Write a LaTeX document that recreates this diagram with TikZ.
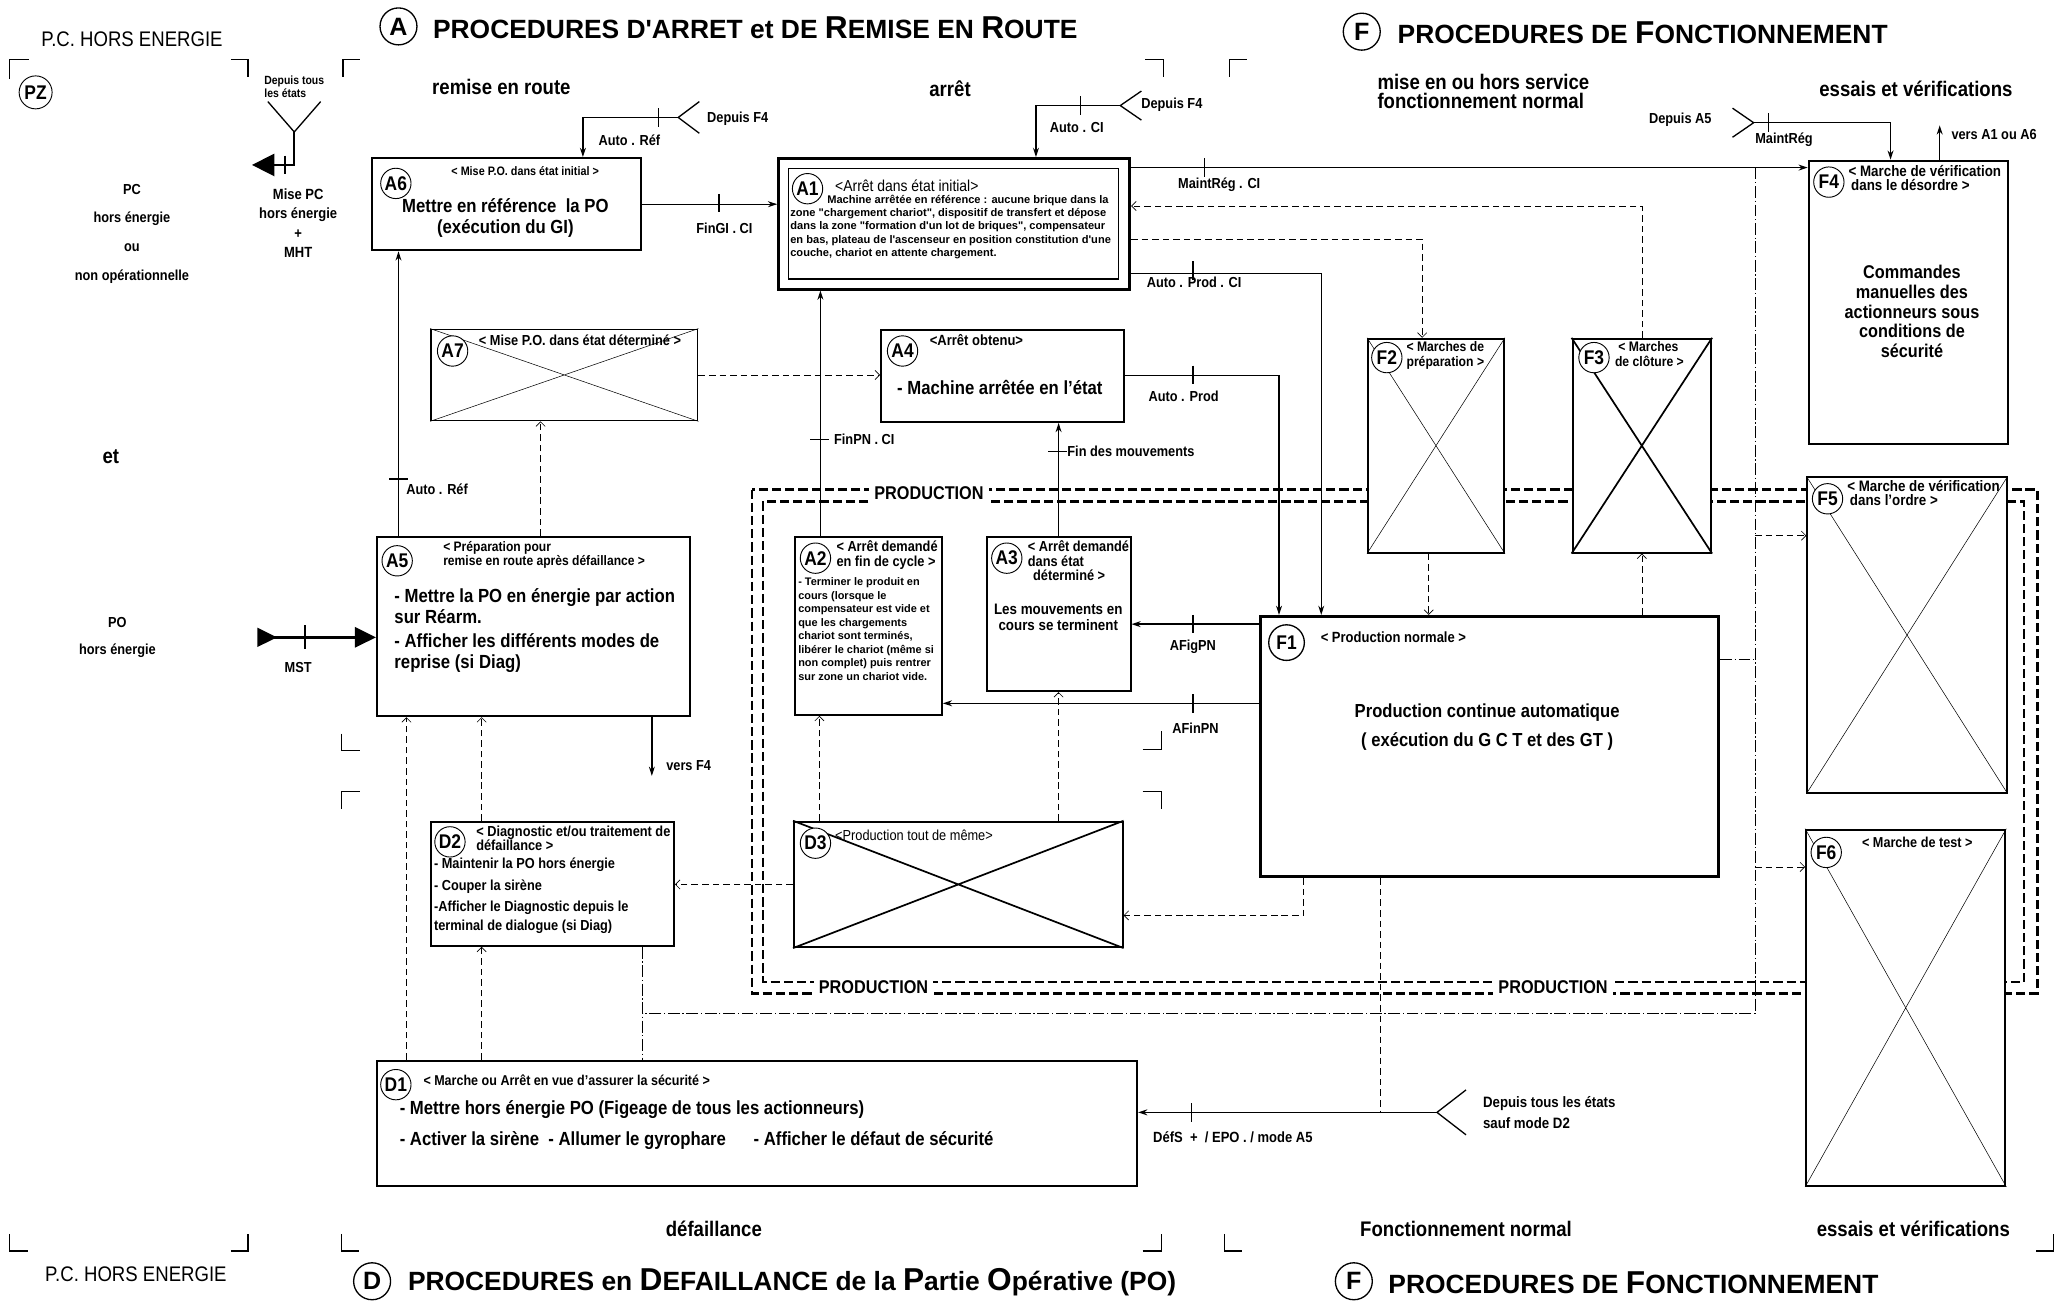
\documentclass[tikz,border=0pt]{standalone}
\usepackage{fontspec}
\setmainfont{Liberation Sans}[FakeStretch=0.88]
\newfontfamily\pleinefont{Liberation Sans}
\usetikzlibrary{arrows.meta,positioning}

\tikzset{
  etat/.style={draw, line width=1.5pt, fill=white, inner sep=0pt, anchor=north west},
  num/.style={circle, draw, line width=0.7pt, fill=white, inner sep=0pt, minimum size=23pt, font=\bfseries\fontsize{15}{15}\selectfont},
  grandnum/.style={circle, draw, line width=1pt, fill=white, inner sep=0pt, minimum size=28pt, font=\pleinefont\bfseries\fontsize{19}{19}\selectfont},
  titre/.style={anchor=west, inner sep=0pt, font=\pleinefont\bfseries\fontsize{20}{21}\selectfont},
  croix/.style={line width=0.4pt},
  croixforte/.style={line width=1.3pt},
  lien/.style={line width=1pt, -{Stealth[length=7pt,width=4.5pt]}},
  pointille/.style={line width=0.5pt, dash pattern=on 5pt off 3pt, -{Straight Barb[length=3.5pt,width=7pt]}},
  mixte/.style={line width=0.5pt, dash pattern=on 9pt off 2pt on 1pt off 2pt},
  prod/.style={line width=1.8pt, dash pattern=on 7pt off 3pt},
  prodlab/.style={fill=white, inner sep=4pt, minimum height=24pt, font=\bfseries\fontsize{14}{14}\selectfont},
  coin/.style={line width=1pt},
  tick/.style={line width=1pt},
  soustitre/.style={inner sep=0.75pt, font=\bfseries\fontsize{9.3}{11}\selectfont},
  moyen/.style={inner sep=0.75pt, font=\bfseries\fontsize{11.2}{11.5}\selectfont},
  corps/.style={inner sep=0.75pt, font=\bfseries\fontsize{14.4}{16}\selectfont},
  petit/.style={inner sep=0.75pt, font=\pleinefont\bfseries\fontsize{8.4}{10}\selectfont},
  rubrique/.style={inner sep=0.75pt, font=\bfseries\fontsize{16}{15}\selectfont},
  etiq/.style={inner sep=0.75pt, font=\bfseries\fontsize{11}{12}\selectfont},
}
\newcommand{\grande}[1]{{\fontsize{24}{24}\selectfont #1}}

\begin{document}
\begin{tikzpicture}[x=1pt,y=1pt,yscale=-1]
\useasboundingbox (0,0) rectangle (1568,986);

%Production loop (double dashed)
\draw[prod] (570,371) rectangle (1544,753);
\draw[prod] (578,380) rectangle (1534,744);
\node[prodlab] (prodA) at (704,374) {PRODUCTION};
\node[prodlab] (prodD) at (662,748) {PRODUCTION};
\node[prodlab] (prodF) at (1177,748) {PRODUCTION};

%Corner marks
\draw[coin] (7,60) -- (7,45) -- (22,45);
\draw[coin] (175,45) -- (188,45) -- (188,58);
\draw[coin] (260,58) -- (260,45) -- (273,45);
\draw[coin] (868,45) -- (882,45) -- (882,58);
\draw[coin] (932,58) -- (932,45) -- (945,45);
\draw[coin] (259,556) -- (259,569) -- (273,569);
\draw[coin] (866,568) -- (880,568) -- (880,554);
\draw[coin] (259,613) -- (259,600) -- (273,600);
\draw[coin] (866,600) -- (880,600) -- (880,613);
\draw[coin] (7,935) -- (7,948) -- (21,948);
\draw[coin] (175,948) -- (188,948) -- (188,935);
\draw[coin] (259,935) -- (259,948) -- (272,948);
\draw[coin] (866,948) -- (880,948) -- (880,935);
\draw[coin] (928,935) -- (928,948) -- (941,948);
\draw[coin] (1543,948) -- (1556,948) -- (1556,935);

%Titles
\node[grandnum] (cA) at (302,20) {A};
\node[titre] (tA) at (328,21) {PROCEDURES D'ARRET et DE \grande{R}EMISE EN \grande{R}OUTE};
\node[grandnum] (cF) at (1032,24) {F};
\node[titre] (tF) at (1059,25) {PROCEDURES DE \grande{F}ONCTIONNEMENT};
\node[grandnum] (cD) at (282,971) {D};
\node[titre] (tD) at (309,972) {PROCEDURES en \grande{D}EFAILLANCE de la \grande{P}artie \grande{O}pérative (PO)};
\node[grandnum] (cF2) at (1026,971) {F};
\node[titre] (tF2) at (1052,972) {PROCEDURES DE \grande{F}ONCTIONNEMENT};

%Zone headings
\node[inner sep=0pt, font=\fontsize{16}{16}\selectfont] (pcT) at (100,30) {P.C. HORS ENERGIE};
\node[inner sep=0pt, font=\fontsize{16}{16}\selectfont] (pcB) at (103,966) {P.C. HORS ENERGIE};
\node[rubrique] (hRemise) at (380,66) {remise en route};
\node[rubrique] (hArret) at (720,67) {arrêt};
\node[rubrique, anchor=west, align=left, font=\bfseries\fontsize{16}{14.5}\selectfont] (hMise) at (1043,69) {mise en ou hors service\\fonctionnement normal};
\node[rubrique] (hEssais) at (1452,67) {essais et vérifications};
\node[rubrique] (hDef) at (541,931) {défaillance};
\node[rubrique] (hFonct) at (1111,931) {Fonctionnement normal};
\node[rubrique] (hEssaisB) at (1450,931) {essais et vérifications};

%Zone PZ
\node[num, minimum size=25pt] (nPZ) at (27,70) {PZ};
\node[align=center, inner sep=0pt, font=\bfseries\fontsize{11}{21.7}\selectfont] (pzTxt) at (100,177) {PC\\hors énergie\\ou\\non opérationnelle};
\node[rubrique] (et) at (84,346) {et};
\node[align=center, inner sep=0pt, font=\bfseries\fontsize{11}{21}\selectfont] (poTxt) at (89,483) {PO\\hors énergie};
\node[align=left, inner sep=0pt, font=\bfseries\fontsize{9}{10}\selectfont] (depTous) at (223,66) {Depuis tous\\les états};
\node[align=center, inner sep=0pt, font=\bfseries\fontsize{11.2}{14.7}\selectfont] (misePC) at (226,169) {Mise PC\\hors énergie\\+\\MHT};
\node[etiq] (mstLab) at (226,506) {MST};

%States A
\node[etat, minimum width=204pt, minimum height=70pt] (A6) at (281,119) {};
\node[etat, line width=2.2pt, minimum width=266pt, minimum height=99pt] (A1) at (589,119) {};
\node[etat, line width=0.9pt, minimum width=250pt, minimum height=84pt] (A1i) at (597,127) {};
\node[etat, line width=1.3pt, minimum width=202pt, minimum height=69pt] (A7) at (326,249) {};
\node[etat, minimum width=184pt, minimum height=70pt] (A4) at (667,249) {};
\node[etat, minimum width=237pt, minimum height=136pt] (A5) at (285,406) {};
\node[etat, minimum width=111pt, minimum height=135pt] (A2) at (602,406) {};
\node[etat, minimum width=109pt, minimum height=117pt] (A3) at (747,406) {};

%States F
\node[etat, line width=2.6pt, minimum width=347pt, minimum height=197pt] (F1) at (954,466) {};
\node[etat, minimum width=103pt, minimum height=162pt] (F2) at (1036,256) {};
\node[etat, minimum width=105pt, minimum height=162pt] (F3) at (1191,256) {};
\node[etat, minimum width=151pt, minimum height=215pt] (F4) at (1370,121) {};
\node[etat, minimum width=151pt, minimum height=239pt] (F5) at (1369,361) {};
\node[etat, minimum width=151pt, minimum height=270pt] (F6) at (1368,628) {};

%States D
\node[etat, minimum width=576pt, minimum height=95pt] (D1) at (285,803) {};
\node[etat, minimum width=184pt, minimum height=94pt] (D2) at (326,622) {};
\node[etat, minimum width=249pt, minimum height=95pt] (D3) at (601,622) {};

%Crossed states
\draw[croix] (A7.north west) -- (A7.south east) (A7.north east) -- (A7.south west);
\draw[croix] (F2.north west) -- (F2.south east) (F2.north east) -- (F2.south west);
\draw[croixforte] (F3.north west) -- (F3.south east) (F3.north east) -- (F3.south west);
\draw[croix] (F5.north west) -- (F5.south east) (F5.north east) -- (F5.south west);
\draw[croix] (F6.north west) -- (F6.south east) (F6.north east) -- (F6.south west);
\draw[croixforte] (D3.north west) -- (D3.south east) (D3.north east) -- (D3.south west);

%State numbers
\node[num] (nA6) at (300,139) {A6};
\node[num] (nA1) at (612,143) {A1};
\node[num] (nA7) at (343,266) {A7};
\node[num] (nA4) at (684,266) {A4};
\node[num] (nA5) at (301,425) {A5};
\node[num] (nA2) at (618,423) {A2};
\node[num] (nA3) at (763,423) {A3};
\node[num, minimum size=27pt, line width=1pt] (nF1) at (975,487) {F1};
\node[num] (nF2) at (1051,271) {F2};
\node[num] (nF3) at (1208,271) {F3};
\node[num] (nF4) at (1386,138) {F4};
\node[num] (nF5) at (1385,378) {F5};
\node[num] (nF6) at (1384,646) {F6};
\node[num] (nD1) at (300,822) {D1};
\node[num] (nD2) at (341,638) {D2};
\node[num] (nD3) at (618,639) {D3};

% Text Node A6
\node[soustitre] (tA6a) at (398,130) {< Mise P.O. dans état initial >};
\node[corps, align=center] (tA6b) at (383,165) {Mettre en référence~ la PO\\(exécution du GI)};
% Text Node A1
\node[inner sep=0.75pt, anchor=west, font=\fontsize{12}{12}\selectfont] (tA1a) at (632,141) {<Arrêt dans état initial>};
\node[petit, anchor=north west, align=left] (tA1b) at (598,147) {\hspace*{28pt}Machine arrêtée en référence : aucune brique dans la\\zone "chargement chariot", dispositif de transfert et dépose\\dans la zone "formation d'un lot de briques", compensateur\\en bas, plateau de l'ascenseur en position constitution d'une\\couche, chariot en attente chargement.};
% Text Node A7
\node[moyen, anchor=west, font=\bfseries\fontsize{11}{11}\selectfont] (tA7) at (362,258) {< Mise P.O. dans état déterminé >};
% Text Node A4
\node[moyen] (tA4a) at (740,258) {<Arrêt obtenu>};
\node[corps, anchor=west] (tA4b) at (679,294) {- Machine arrêtée en l'état};
% Text Node A5
\node[moyen, anchor=north west, align=left, font=\bfseries\fontsize{10.4}{11}\selectfont] (tA5a) at (335,409) {< Préparation pour\\remise en route après défaillance >};
\node[corps, anchor=north west, align=left] (tA5b) at (298,445) {- Mettre la PO en énergie par action\\sur Réarm.};
\node[corps, anchor=north west, align=left] (tA5c) at (298,479) {- Afficher les différents modes de\\reprise (si Diag)};
% Text Node A2
\node[inner sep=0.75pt, anchor=north west, align=left, font=\bfseries\fontsize{11}{11}\selectfont] (tA2a) at (633,409) {< Arrêt demandé\\en fin de cycle >};
\node[petit, anchor=north west, align=left, font=\pleinefont\bfseries\fontsize{8.3}{10.2}\selectfont] (tA2b) at (604,437) {- Terminer le produit en\\cours (lorsque le\\compensateur est vide et\\que les chargements\\chariot sont terminés,\\libérer le chariot (même si\\non complet) puis rentrer\\sur zone un chariot vide.};
% Text Node A3
\node[inner sep=0.75pt, anchor=north west, align=left, font=\bfseries\fontsize{11}{11}\selectfont] (tA3a) at (778,409) {< Arrêt demandé\\dans état\\\hspace*{4pt}déterminé >};
\node[inner sep=0.75pt, align=center, font=\bfseries\fontsize{11.5}{12.5}\selectfont] (tA3b) at (802,468) {Les mouvements en\\cours se terminent};
% Text Node F1
\node[moyen, anchor=west] (tF1a) at (1000,483) {< Production normale >};
\node[corps, align=center, font=\bfseries\fontsize{14.3}{22}\selectfont] (tF1b) at (1127,551) {Production continue automatique\\( exécution du G C T et des GT )};
% Text Node F2
\node[inner sep=0.75pt, anchor=north west, align=left, font=\bfseries\fontsize{10.5}{11}\selectfont] (tF2) at (1065,258) {< Marches de\\préparation >};
% Text Node F3
\node[inner sep=0.75pt, anchor=north west, align=left, font=\bfseries\fontsize{10.5}{11}\selectfont] (tF3) at (1223,258) {~< Marches\\de clôture >};
% Text Node F4
\node[moyen, anchor=north west, align=left, font=\bfseries\fontsize{11.5}{11}\selectfont] (tF4a) at (1400,124) {< Marche de vérification\\\hspace*{2pt}dans le désordre >};
\node[corps, align=center, font=\bfseries\fontsize{14}{15}\selectfont] (tF4b) at (1449,236) {Commandes\\manuelles des\\actionneurs sous\\conditions de\\sécurité};
% Text Node F5
\node[moyen, anchor=north west, align=left, font=\bfseries\fontsize{11.5}{11}\selectfont] (tF5) at (1399,363) {< Marche de vérification\\\hspace*{2pt}dans l'ordre >};
% Text Node F6
\node[moyen, font=\bfseries\fontsize{10.9}{11}\selectfont] (tF6) at (1453,638) {< Marche de test >};
% Text Node D1
\node[moyen, anchor=west, font=\bfseries\fontsize{10.8}{11}\selectfont] (tD1a) at (320,819) {< Marche ou Arrêt en vue d'assurer la sécurité >};
\node[corps, anchor=west] (tD1b) at (302,841) {- Mettre hors énergie PO (Figeage de tous les actionneurs)};
\node[corps, anchor=west] (tD1c) at (302,864) {- Activer la sirène~ - Allumer le gyrophare \hspace{14pt} - Afficher le défaut de sécurité};
% Text Node D2
\node[moyen, anchor=north west, align=left, font=\bfseries\fontsize{11}{10.5}\selectfont] (tD2a) at (360,625) {< Diagnostic et/ou traitement de\\défaillance >};
\node[inner sep=0.75pt, anchor=north west, align=left, font=\bfseries\fontsize{11}{16.5}\selectfont] (tD2b) at (328,649) {- Maintenir la PO hors énergie\\- Couper la sirène\\-Afficher le Diagnostic depuis le};
\node[inner sep=0.75pt, anchor=west, font=\bfseries\fontsize{11}{11}\selectfont] (tD2c) at (328,702) {terminal de dialogue (si Diag)};
% Text Node D3
\node[inner sep=0.75pt, anchor=west, font=\fontsize{11}{11}\selectfont] (tD3) at (632,633) {<Production tout de même>};

%Entry points
\coordinate (pcY) at (223,100);
\coordinate (pcFl) at (191,125);
\coordinate (mstIn) at (195,483);
\coordinate (dF4a) at (514,89);
\coordinate (dF4b) at (849,80);
\coordinate (dA5) at (1329,93);
\coordinate (versA1) at (1470,95);
\coordinate (versF4) at (494,588);
\coordinate (dTous) at (1089,843);
\coordinate (jH) at (1330,768);
\coordinate (jD) at (487,768);

%Forks
\draw[line width=1pt] (pcY) -- ++(-20,-23) (pcY) -- ++(20,-23);
\draw[line width=1pt] (dF4a) -- ++(16,-12) (dF4a) -- ++(16,12);
\draw[line width=1pt] (dF4b) -- ++(16,-11) (dF4b) -- ++(16,11);
\draw[line width=1pt] (dA5) -- ++(-16,-11) (dA5) -- ++(-16,11);
\draw[line width=1pt] (dTous) -- ++(22,-17) (dTous) -- ++(22,17);

% Connection PZ
\draw[line width=1.2pt, -{Triangle[length=17pt,width=17pt]}] (pcY) |- (pcFl);
\draw[tick] (216,118) -- (216,132);
% Connection MST
\draw[line width=2.6pt, {Triangle[reversed,length=15pt,width=14pt]}-{Triangle[length=16pt,width=15pt]}] (mstIn) -- (mstIn -| A5.west);
\draw[tick, line width=1.5pt] (231,474) -- (231,492);

% Connection A6 -> A1
\draw[lien] (A6.east) -- (A6.east -| A1.west);
\draw[tick] (545,147) -- (545,161);
\node[etiq] (lFinGI) at (549,173) {FinGI . CI};
% Connection Depuis F4 -> A6
\draw[lien] (dF4a) -| ([xshift=58pt]A6.north);
\draw[tick] (499,82) -- (499,96);
\node[etiq] (lAutoRef) at (477,106) {Auto . Réf};
\node[etiq, anchor=west] (lDepF4a) at (535,90) {Depuis F4};
% Connection Depuis F4 -> A1
\draw[lien] (dF4b) -| ([xshift=62pt]A1.north);
\draw[tick] (819,73) -- (819,87);
\node[etiq] (lAutoCI) at (816,97) {Auto . CI};
\node[etiq, anchor=west] (lDepF4b) at (864,79) {Depuis F4};
% Connection A1 -> F4
\draw[lien] ([yshift=8pt]A1.north east) -- ([yshift=8pt]A1.north east -| F4.west);
\draw[tick] (913,120) -- (913,134);
\node[etiq] (lMaintCI) at (924,140) {MaintRég . CI};
% Connection A1 -> F1
\draw[lien] ([yshift=-13pt]A1.south east) -| ([xshift=-127.5pt]F1.north);
\draw[tick] (904,198) -- (904,212);
\node[etiq] (lAutoProdCI) at (905,214) {Auto . Prod . CI};
% Connection A4 -> F1
\draw[lien] (A4.east) -| ([xshift=-159.5pt]F1.north);
\draw[tick] (904,277) -- (904,291);
\node[etiq] (lAutoProd) at (897,300) {Auto . Prod};
% Connection A2 -> A1
\draw[lien] ([xshift=-36.5pt]A2.north) -- ([xshift=-36.5pt]A2.north |- A1.south);
\draw[tick] (614,333) -- (628,333);
\node[etiq] (lFinPN) at (655,333) {FinPN . CI};
% Connection A3 -> A4
\draw[lien] (A3.north) -- (A3.north |- A4.south);
\draw[tick] (794.5,342) -- (808.5,342);
\node[etiq, anchor=west] (lFinMouv) at (808,342) {Fin des mouvements};
% Connection F1 -> A3
\draw[lien] ([yshift=7pt]F1.north west) -- ([yshift=7pt]F1.north west -| A3.east);
\draw[tick] (904,466) -- (904,480);
\node[etiq] (lAFig) at (904,490) {AFigPN};
% Connection F1 -> A2
\draw[lien] ([yshift=67pt]F1.north west) -- ([yshift=67pt]F1.north west -| A2.east);
\draw[tick] (904,526) -- (904,540);
\node[etiq] (lAFin) at (906,552) {AFinPN};
% Connection A5 -> A6
\draw[lien] ([xshift=17pt]A5.north west) -- ([xshift=17pt]A5.north west |- A6.south);
\draw[tick] (295,363) -- (309,363);
\node[etiq, anchor=west] (lAutoRef2) at (307,371) {Auto . Réf};
% Connection A5 -> vers F4
\draw[lien] (versF4 |- A5.south) -- (versF4);
\node[etiq, anchor=west] (lVersF4) at (504,580) {vers F4};
% Connection Depuis A5 -> F4
\draw[lien] (dA5) -| ([xshift=-13.5pt]F4.north);
\draw[tick] (1340,86) -- (1340,100);
\node[etiq, anchor=east] (lDepA5) at (1298,91) {Depuis A5};
\node[etiq] (lMaint) at (1352,106) {MaintRég};
% Connection F4 -> vers A1 ou A6
\draw[lien] (versA1 |- F4.north) -- (versA1);
\node[etiq, anchor=west] (lVersA1) at (1478,102) {vers A1 ou A6};
% Connection Depuis tous les etats -> D1
\draw[lien] (dTous) -- (dTous -| D1.east);
\draw[tick] (903,836) -- (903,850);
\node[etiq, anchor=west, font=\bfseries\fontsize{11.2}{12}\selectfont] (lDefs) at (873,862) {DéfS~ +~ / EPO . / mode A5};
\node[etiq, anchor=west, align=left, font=\bfseries\fontsize{11.4}{16}\selectfont] (lDepTous) at (1123,843) {Depuis tous les états\\sauf mode D2};

% Dashed connections
\draw[pointille] (A7.east) -- (A7.east -| A4.west);
\draw[pointille] ([xshift=-18pt]A7.south |- A5.north) -- ([xshift=-18pt]A7.south);
\draw[pointille] ([xshift=23pt]D1.north west) -- ([xshift=23pt]D1.north west |- A5.south);
\draw[pointille] ([xshift=39pt]D2.north west) -- ([xshift=39pt]D2.north west |- A5.south);
\draw[pointille] ([xshift=39pt]D2.south west |- D1.north) -- ([xshift=39pt]D2.south west);
\draw[pointille] (D3.west) -- (D3.west -| D2.east);
\draw[pointille] ([xshift=20pt]D3.north west) -- ([xshift=20pt]D3.north west |- A2.south);
\draw[pointille] (A3.south |- D3.north) -- (A3.south);
\draw[pointille] ([xshift=34pt]F1.south west) |- ([yshift=23.5pt]D3.east);
\draw[pointille] ([xshift=-5.5pt]F2.south) -- ([xshift=-5.5pt]F2.south |- F1.north);
\draw[pointille] ([yshift=-39pt]A1.south east) -| ([xshift=-10.5pt]F2.north);
\draw[pointille] (F3.north) |- ([yshift=-13.5pt]A1.east);
\draw[pointille] (F3.south |- F1.north) -- (F3.south);
\draw[pointille, -] ([xshift=-82.5pt]F1.south) -- ([xshift=-82.5pt]F1.south |- dTous);
\draw[mixte] ([yshift=8pt]A1.north east -| jH) -- (jH) -- (jD);
\draw[mixte] (jD |- D2.south) -- (jD |- D1.north);
\draw[mixte] ([yshift=34pt]F1.north east) -- ([yshift=34pt]F1.north east -| jH);
\draw[pointille] ([yshift=45pt]F5.north west -| jH) -- ([yshift=45pt]F5.north west);
\draw[pointille] ([yshift=29pt]F6.north west -| jH) -- ([yshift=29pt]F6.north west);

\end{tikzpicture}
\end{document}
